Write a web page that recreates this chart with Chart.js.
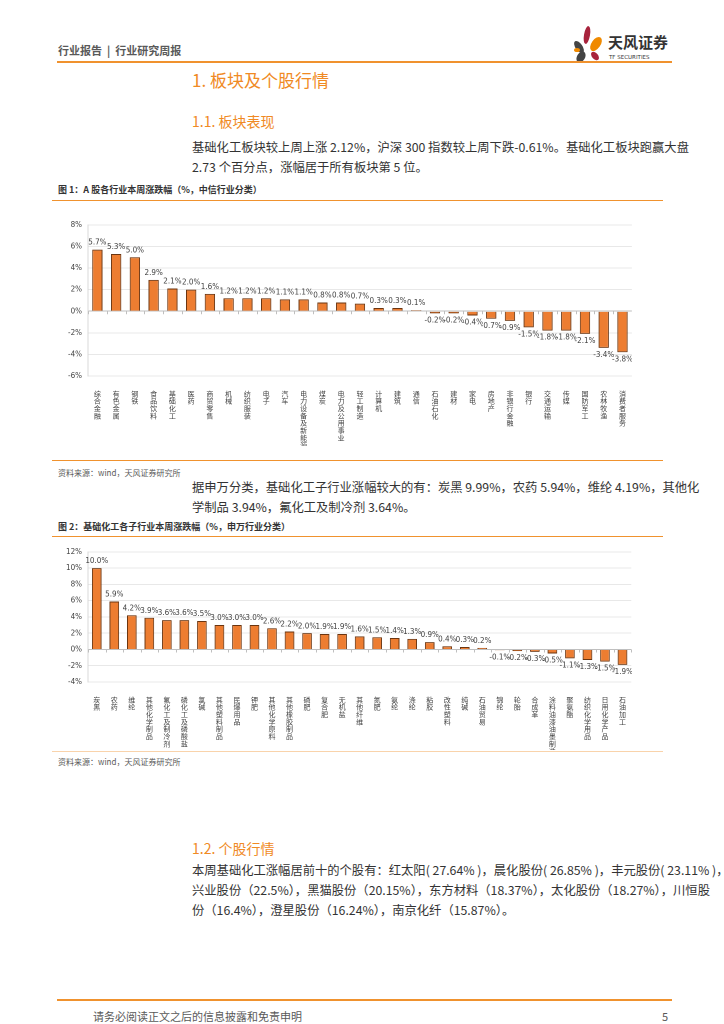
<!DOCTYPE html>
<html>
<head>
<meta charset="utf-8">
<script src="https://cdn.jsdelivr.net/npm/chart.js@4"></script>
<style>
  body { margin: 0; background: #fff; font-family: "Noto Sans CJK SC", "Noto Sans", sans-serif; }
  #page { position: relative; width: 724px; height: 1024px; overflow: hidden; }
  .t { position: absolute; white-space: nowrap; }
  .line { position: absolute; background: #f0922e; }
  .para { font-size: 12.3px; line-height: 20px; color: #333; left: 192px;
          font-family: "Liberation Sans Narrow", "Noto Sans CJK SC", sans-serif; }
  .full { width: 482px; text-align: justify; text-align-last: justify; }
  .h { color: #f08a24; left: 192px; }
  .fig { font-size: 9px; font-weight: bold; color: #333; left: 58px; line-height: 12px; }
  .src { font-size: 8px; color: #595959; left: 58px; line-height: 10px; }
  canvas { position: absolute; }
</style>
</head>
<body>
<div id="page">
  <div class="t" style="left:58px;top:43px;font-size:11px;font-weight:bold;color:#595959;line-height:14px;">行业报告 &nbsp;|&nbsp; 行业研究周报</div>

  <svg style="position:absolute;left:568px;top:22px" width="104" height="42">
    <ellipse cx="11" cy="25" rx="3.5" ry="7" fill="#444" transform="rotate(-35 11 25)"/>
    <ellipse cx="19" cy="13" rx="3" ry="9" fill="#a8233c" transform="rotate(10 19 13)"/>
    <ellipse cx="28" cy="22" rx="4.5" ry="8" fill="#f08a00" transform="rotate(35 28 22)"/>
    <ellipse cx="13" cy="35" rx="4" ry="6" fill="#444" transform="rotate(30 13 35)"/>
    <ellipse cx="27" cy="34" rx="3" ry="5" fill="#a8233c" transform="rotate(-40 27 34)"/>
    <ellipse cx="9" cy="28" rx="3" ry="2" fill="#f08a00"/>
    <text x="40" y="26" font-size="15" font-weight="bold" fill="#333" font-family="Noto Sans CJK SC">天风证券</text>
    <text x="41" y="37" font-size="5.5" fill="#333" font-family="DejaVu Sans">TF SECURITIES</text>
  </svg>

  <div class="line" style="left:57px;top:61px;width:615px;height:2px;"></div>

  <div class="t h" style="top:69px;font-size:17px;line-height:22px;">1. 板块及个股行情</div>
  <div class="t h" style="top:112px;font-size:14px;line-height:18px;">1.1. 板块表现</div>
  <div class="t para full" style="top:137px;">基础化工板块较上周上涨 2.12%，沪深 300 指数较上周下跌-0.61%。基础化工板块跑赢大盘</div>
  <div class="t para" style="top:157px;">2.73 个百分点，涨幅居于所有板块第 5 位。</div>

  <div class="t fig" style="top:184px;">图 1：A 股各行业本周涨跌幅（%，中信行业分类）</div>
  <div class="line" style="left:52px;top:200px;width:611px;height:1px;"></div>
  <canvas id="chart1"></canvas>
  <div class="line" style="left:52px;top:460px;width:611px;height:1px;"></div>
  <div class="t src" style="top:468px;">资料来源：wind，天风证券研究所</div>

  <div class="t para full" style="top:477px;">据申万分类，基础化工子行业涨幅较大的有：炭黑 9.99%，农药 5.94%，维纶 4.19%，其他化</div>
  <div class="t para" style="top:497px;">学制品 3.94%，氟化工及制冷剂 3.64%。</div>

  <div class="t fig" style="top:521px;">图 2：基础化工各子行业本周涨跌幅（%，申万行业分类）</div>
  <div class="line" style="left:52px;top:536px;width:611px;height:1px;"></div>
  <canvas id="chart2"></canvas>
  <div class="line" style="left:52px;top:751px;width:611px;height:1px;opacity:0.4;"></div>
  <div class="t src" style="top:757px;">资料来源：wind，天风证券研究所</div>

  <div class="t h" style="top:839px;font-size:14px;line-height:18px;">1.2. 个股行情</div>
  <div class="t para full" style="top:860px;">本周基础化工涨幅居前十的个股有：红太阳( 27.64% )，晨化股份( 26.85% )，丰元股份( 23.11% )，</div>
  <div class="t para full" style="top:880px;">兴业股份（22.5%），黑猫股份（20.15%），东方材料（18.37%），太化股份（18.27%），川恒股</div>
  <div class="t para" style="top:900px;">份（16.4%），澄星股份（16.24%），南京化纤（15.87%）。</div>

  <div class="line" style="left:57px;top:999px;width:615px;height:2px;"></div>
  <div class="t" style="left:93px;top:1009px;font-size:11px;color:#595959;line-height:14px;">请务必阅读正文之后的信息披露和免责申明</div>
  <div class="t" style="left:662px;top:1009px;font-size:11px;color:#595959;line-height:14px;">5</div>
</div>

<script>
// chart 1: 中信行业
const industries = ["综合金融", "有色金属", "钢铁", "食品饮料", "基础化工", "医药", "商贸零售", "机械", "纺织服装", "电子",
  "汽车", "电力设备及新能源", "煤炭", "电力及公用事业", "轻工制造", "计算机", "建筑", "通信", "石油石化", "建材",
  "家电", "房地产", "非银行金融", "银行", "交通运输", "传媒", "国防军工", "农林牧渔", "消费者服务"];
const industryChange = [5.7, 5.3, 5.0, 2.9, 2.1, 2.0, 1.6, 1.2, 1.2, 1.2,
  1.1, 1.1, 0.8, 0.8, 0.7, 0.3, 0.3, 0.1, -0.2, -0.2,
  -0.4, -0.7, -0.9, -1.5, -1.8, -1.8, -2.1, -3.4, -3.8];
const ticks1 = [-6, -4, -2, 0, 2, 4, 6, 8];

// chart 2: 申万子行业
const subIndustries = ["炭黑", "农药", "维纶", "其他化学制品", "氟化工及制冷剂", "磷化工及磷酸盐", "氯碱", "其他塑料制品", "民爆用品", "钾肥",
  "其他化学原料", "其他橡胶制品", "磷肥", "复合肥", "无机盐", "其他纤维", "氮肥", "氨纶", "涤纶", "粘胶",
  "改性塑料", "纯碱", "石油贸易", "锦纶", "轮胎", "合成革", "涂料油漆油墨制造", "聚氨酯", "纺织化学用品", "日用化学产品", "石油加工"];
const subChange = [10.0, 5.9, 4.2, 3.9, 3.6, 3.6, 3.5, 3.0, 3.0, 3.0,
  2.6, 2.2, 2.0, 1.9, 1.9, 1.6, 1.5, 1.4, 1.3, 0.9,
  0.4, 0.3, 0.2, -0.1, -0.2, -0.3, -0.5, -1.1, -1.3, -1.5, -1.9];
const ticks2 = [-4, -2, 0, 2, 4, 6, 8, 10, 12];

// bar value labels + little ticks on the zero line
const barLabels = {
  id: "barLabels",
  afterDatasetsDraw(chart) {
    const ctx = chart.ctx;
    const meta = chart.getDatasetMeta(0);
    const vals = chart.data.datasets[0].data;
    const x = chart.scales.x, y = chart.scales.y;
    const y0 = y.getPixelForValue(0);
    ctx.save();
    ctx.strokeStyle = "#bfbfbf";
    ctx.lineWidth = 1;
    for (let i = 0; i <= vals.length; i++) {
      const px = Math.round(x.left + (x.right - x.left) * i / vals.length) + 0.5;
      ctx.beginPath();
      ctx.moveTo(px, y0);
      ctx.lineTo(px, y0 + 3);
      ctx.stroke();
    }
    ctx.font = "8px 'DejaVu Sans Condensed', sans-serif";
    ctx.fillStyle = "#404040";
    ctx.textAlign = "center";
    meta.data.forEach(function (bar, i) {
      const v = vals[i];
      const txt = v.toFixed(1) + "%";
      if (v >= 0) {
        ctx.textBaseline = "bottom";
        ctx.fillText(txt, bar.x, bar.y - 3);
      } else {
        ctx.textBaseline = "top";
        ctx.fillText(txt, bar.x, bar.y + 3);
      }
    });
    ctx.restore();
  }
};

function makeChart(id, labels, values, yTicks, box, xHeight) {
  const cv = document.getElementById(id);
  cv.style.left = box.left + "px";
  cv.style.top = box.top + "px";
  cv.style.width = box.width + "px";
  cv.style.height = box.height + "px";
  return new Chart(cv, {
    type: "bar",
    data: {
      // one character per line -> upright vertical text
      labels: labels.map(function (s) { return s.split(""); }),
      datasets: [{
        data: values,
        backgroundColor: "#ed7d31",
        borderColor: "#6b3510",
        borderWidth: 1,
        categoryPercentage: 1,
        barPercentage: 0.55,
      }],
    },
    options: {
      responsive: false,
      animation: false,
      devicePixelRatio: 2,
      layout: { padding: { top: 10, right: 0, left: 0, bottom: 0 } },
      plugins: { legend: { display: false }, tooltip: { enabled: false } },
      scales: {
        x: {
          grid: { display: false },
          border: { display: false },
          ticks: {
            autoSkip: false, maxRotation: 0, minRotation: 0, padding: 6,
            color: "#404040",
            font: { size: 7, family: "'Noto Sans CJK SC'", lineHeight: 1.05 },
          },
          afterFit(scale) { scale.height = xHeight; },
        },
        y: {
          min: yTicks[0],
          max: yTicks[yTicks.length - 1],
          afterBuildTicks(scale) { scale.ticks = yTicks.map(function (v) { return { value: v }; }); },
          grid: {
            color: function (c) { return c.tick && c.tick.value === 0 ? "#bfbfbf" : "#e8e8e8"; },
            drawTicks: false,
          },
          border: { display: true, color: "#d9d9d9" },
          ticks: {
            padding: 6,
            color: "#404040",
            font: { size: 8, family: "'DejaVu Sans Condensed', sans-serif" },
            callback: function (v) { return v + "%"; },
          },
          afterFit(scale) { scale.width = 30; },
        },
      },
    },
    plugins: [barLabels],
  });
}

makeChart("chart1", industries, industryChange, ticks1, { left: 58, top: 214, width: 574, height: 232 }, 70);
makeChart("chart2", subIndustries, subChange, ticks2, { left: 58, top: 541, width: 574, height: 209 }, 68);
</script>
</body>
</html>
